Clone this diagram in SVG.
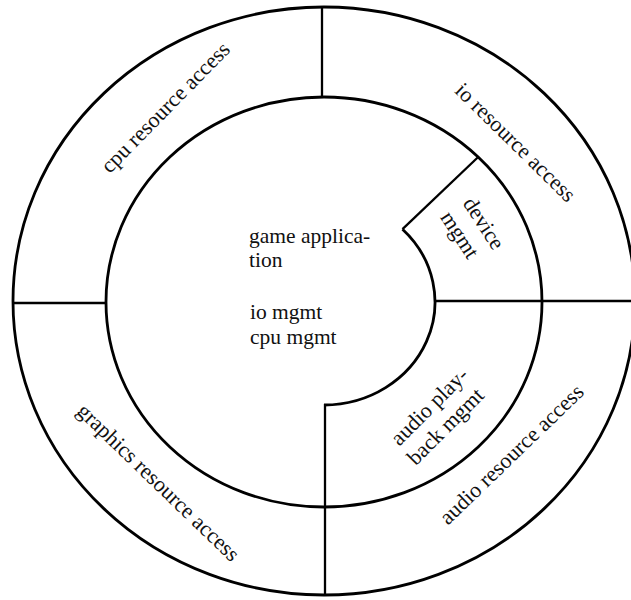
<svg xmlns="http://www.w3.org/2000/svg" width="631" height="600" viewBox="0 0 631 600">
  <style>
    .ring { fill: none; stroke: #000; stroke-width: 2.8; }
    .div { fill: none; stroke: #000; stroke-width: 2.3; }
    .lbl { font-family: "Liberation Serif", "Times New Roman", serif; font-size: 22px; fill: #111; }
    .core { font-size: 21.5px; }
  </style>
  <rect width="631" height="600" fill="#fff"/>
  <g id="connectors">
    <ellipse class="ring" cx="324" cy="301" rx="311" ry="294"/>
    <ellipse class="ring" cx="324" cy="302" rx="218" ry="205"/>
    <path class="ring" d="M402.5,229.2 A111,103 0 0 1 324,405"/>
    <path class="div" d="M322,6 L322,98"/>
    <path class="div" d="M13,303 L106,303"/>
    <path class="div" d="M435,301 L631,301"/>
    <path class="div" d="M325,404 L325,595"/>
    <path class="div" d="M402.5,229.2 L478.2,157"/>
  </g>
  <g id="cpu-resource-access">
    <text class="lbl" text-anchor="middle" transform="translate(170.5,112.5) rotate(-45.5)">cpu resource access</text>
  </g>
  <g id="io-resource-access">
    <text class="lbl" text-anchor="middle" transform="translate(510.5,147.5) rotate(44.5)">io resource access</text>
  </g>
  <g id="graphics-resource-access">
    <text class="lbl" text-anchor="middle" transform="translate(153.5,487.6) rotate(44)">graphics resource access</text>
  </g>
  <g id="audio-resource-access">
    <text class="lbl" text-anchor="middle" transform="translate(516.5,459.6) rotate(-44)">audio resource access</text>
  </g>
  <g id="device-mgmt">
    <text class="lbl" transform="translate(477.8,227.2) rotate(57)" text-anchor="middle">device</text>
    <text class="lbl" transform="translate(453.8,238.7) rotate(57)" text-anchor="middle">mgmt</text>
  </g>
  <g id="audio-playback-mgmt">
    <text class="lbl" text-anchor="middle" transform="translate(434.5,411.5) rotate(-45)">audio play-</text>
    <text class="lbl" text-anchor="middle" transform="translate(450.5,431.5) rotate(-45)">back mgmt</text>
  </g>
  <g id="game-application">
    <text class="lbl core" x="249" y="243">game applica-</text>
    <text class="lbl core" x="249" y="267">tion</text>
    <text class="lbl core" x="250" y="319">io mgmt</text>
    <text class="lbl core" x="250" y="344">cpu mgmt</text>
  </g>
</svg>
